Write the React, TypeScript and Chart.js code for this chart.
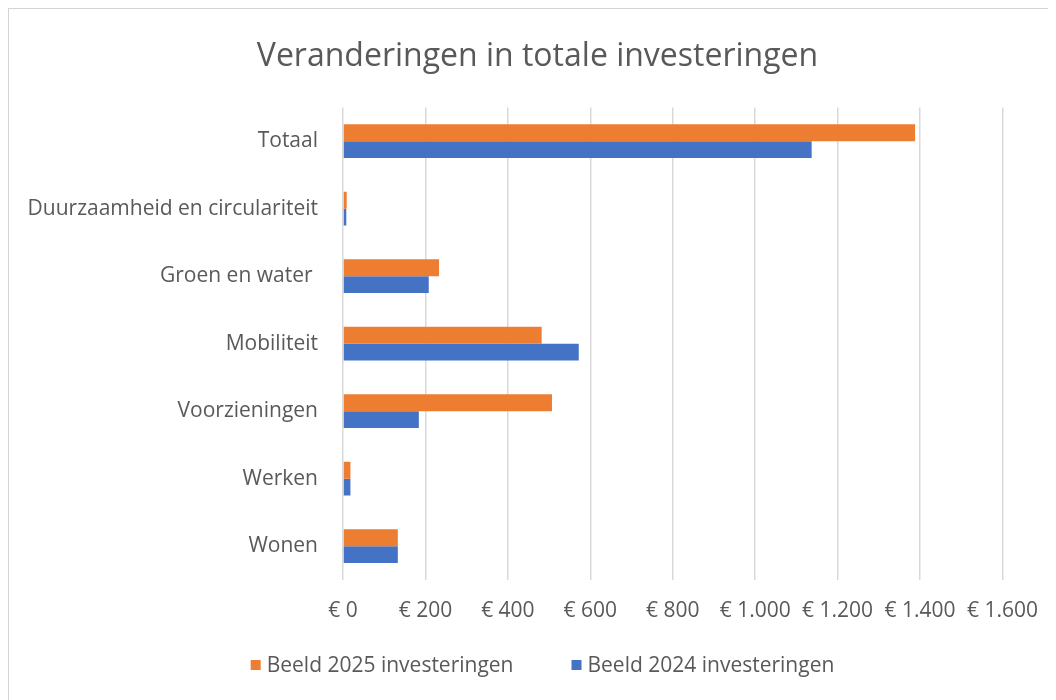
import React, { useEffect, useRef } from "react";
import { Chart, registerables } from "chart.js";

Chart.register(...registerables);

const chartTitle = "Veranderingen in totale investeringen";
const categories = [
  "Totaal",
  "Duurzaamheid en circulariteit",
  "Groen en water ",
  "Mobiliteit",
  "Voorzieningen",
  "Werken",
  "Wonen",
];
const seriesLabels = ["Beeld 2025 investeringen", "Beeld 2024 investeringen"];
const investments2025 = [1388, 9, 233, 482, 507, 18, 133];
const investments2024 = [1137, 8, 208, 572, 184, 18, 133];
const xMin = 0;
const xMax = 1600;
const xStep = 200;

const ORANGE = "#ED7D31";
const BLUE = "#4472C4";
const TEXT = "#595959";
const FONT = "'Open Sans', sans-serif";

const formatEuro = (v: number) =>
  "€ " + String(Math.round(v)).replace(/\B(?=(\d{3})+(?!\d))/g, ".");

const legendPlugin = {
  id: "excelLegend",
  afterLayout(chart: any) {
    // centre the title over the whole frame rather than the padded area
    const t = chart.titleBlock;
    if (t) {
      t.left = 10;
      t.right = chart.width;
      t.width = chart.width - 10;
    }
  },
  afterDraw(chart: any) {
    const ctx = chart.ctx as CanvasRenderingContext2D;
    ctx.save();
    ctx.font = `21px ${FONT}`;
    ctx.textBaseline = "middle";
    ctx.textAlign = "left";
    const box = 10;
    const gapText = 6;
    const gapItem = 58;
    const items = chart.data.datasets.map((ds: any) => ({
      label: ds.label as string,
      color: ds.backgroundColor as string,
      w: ctx.measureText(ds.label).width,
    }));
    const total =
      items.reduce((s: number, it: any) => s + box + gapText + it.w, 0) +
      gapItem * (items.length - 1);
    let x = chart.width / 2 + 10 - total / 2;
    const y = chart.height - 35;
    items.forEach((it: any) => {
      ctx.fillStyle = it.color;
      ctx.fillRect(x, y - box / 2, box, box);
      x += box + gapText;
      ctx.fillStyle = TEXT;
      ctx.fillText(it.label, x, y + 1);
      x += it.w + gapItem;
    });
    ctx.restore();
  },
};

export default function App() {
  const canvasRef = useRef<HTMLCanvasElement | null>(null);

  useEffect(() => {
    if (!canvasRef.current) return;
    const chart = new Chart(canvasRef.current, {
      type: "bar",
      data: {
        labels: categories,
        datasets: [
          {
            label: seriesLabels[0],
            data: investments2025,
            backgroundColor: ORANGE,
            borderWidth: 0,
            categoryPercentage: 0.5,
            barPercentage: 1.0,
          },
          {
            label: seriesLabels[1],
            data: investments2024,
            backgroundColor: BLUE,
            borderWidth: 0,
            categoryPercentage: 0.5,
            barPercentage: 1.0,
          },
        ],
      },
      options: {
        indexAxis: "y",
        animation: false,
        responsive: false,
        maintainAspectRatio: false,
        layout: { padding: { left: 4, right: 52, top: 0, bottom: 0 } },
        plugins: {
          legend: { display: false },
          tooltip: { enabled: false },
          title: {
            display: true,
            text: chartTitle,
            color: TEXT,
            font: { family: FONT, size: 32, weight: "normal", lineHeight: 1.2 },
            padding: { top: 29, bottom: 31 },
          },
        },
        scales: {
          x: {
            min: xMin,
            max: xMax,
            ticks: {
              stepSize: xStep,
              color: TEXT,
              font: { family: FONT, size: 21 },
              padding: 18,
              maxRotation: 0,
              autoSkip: false,
              callback: (v: any) => formatEuro(Number(v)),
            },
            grid: {
              color: "#d9d9d9",
              lineWidth: 1.5,
              drawTicks: false,
            },
            border: { display: false },
            afterFit: (scale: any) => {
              scale.height = 120;
            },
          },
          y: {
            ticks: {
              color: TEXT,
              font: { family: FONT, size: 21 },
              padding: 25,
              autoSkip: false,
            },
            grid: { display: false, drawTicks: false },
            border: { display: false },
            afterFit: (scale: any) => {
              scale.width = 330;
            },
          },
        },
      },
      plugins: [legendPlugin],
    } as any);
    return () => chart.destroy();
  }, []);

  return (
    <div
      style={{
        width: 1048,
        height: 692,
        boxSizing: "border-box",
        borderTop: "1px solid #d4d4d4",
        borderLeft: "1px solid #d4d4d4",
        background: "#ffffff",
      }}
    >
      <canvas ref={canvasRef} width={1047} height={691} style={{ display: "block" }} />
    </div>
  );
}
